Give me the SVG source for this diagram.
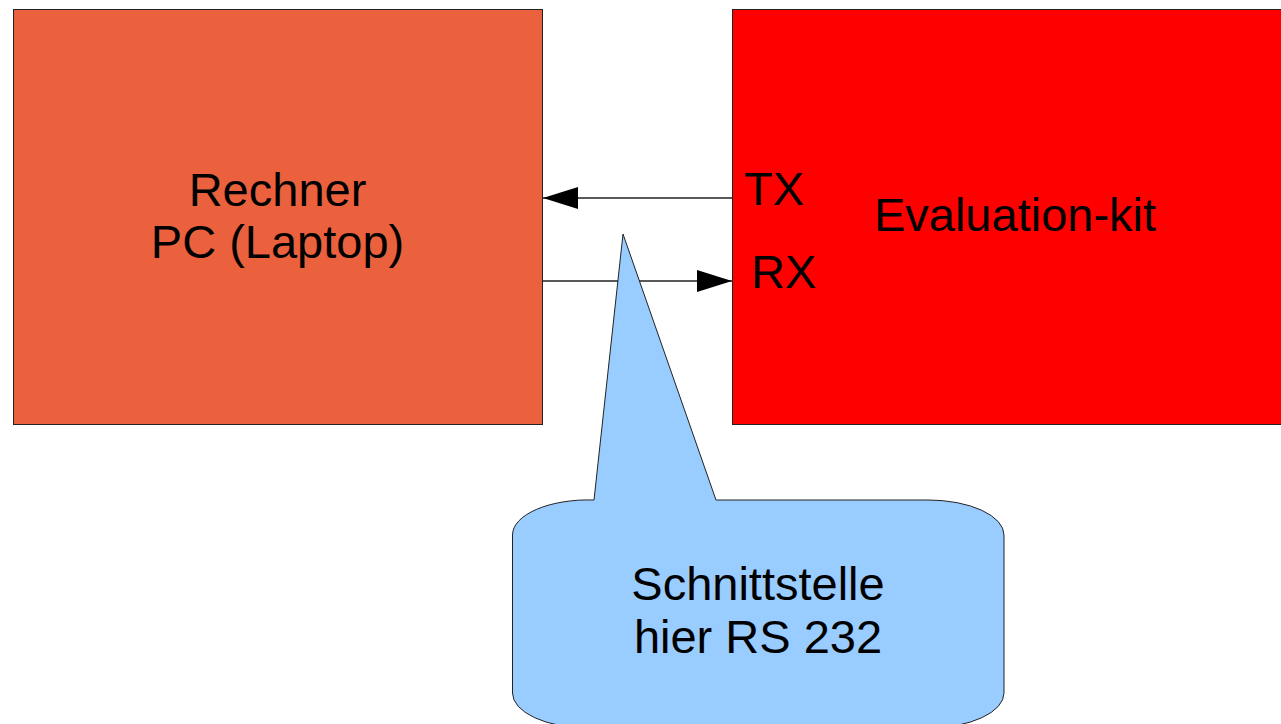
<svg xmlns="http://www.w3.org/2000/svg" width="1281" height="724" viewBox="0 0 1281 724">
<style>
.box{stroke:#222;stroke-width:1}
.t{font-family:"Liberation Sans",Arial,sans-serif;font-size:47px;fill:#000}
.c{stroke:#222;stroke-width:1.3;fill:none}
</style>
<defs>
<marker id="ah" markerUnits="userSpaceOnUse" markerWidth="36" markerHeight="24" refX="35" refY="12" orient="auto">
<path d="M0,1 L35,12 L0,23 Z" fill="#000"/>
</marker>
</defs>
<rect width="1281" height="724" fill="#fff"/>
<g id="rechner">
<rect class="box" x="13.5" y="9.5" width="529" height="415" fill="#EB613D"/>
<text class="t" x="277.5" y="206" text-anchor="middle">Rechner</text>
<text class="t" x="277.5" y="258" text-anchor="middle">PC (Laptop)</text>
</g>
<g id="evalkit">
<rect class="box" x="732.5" y="9.5" width="570" height="415" fill="#FF0000"/>
<text class="t" x="1015" y="231" text-anchor="middle">Evaluation-kit</text>
<text class="t" x="744" y="205">TX</text>
<text class="t" x="751" y="288">RX</text>
</g>
<g id="connectors">
<line class="c" x1="732" y1="198" x2="543" y2="198" marker-end="url(#ah)"/>
<line class="c" x1="542" y1="281" x2="732" y2="281" marker-end="url(#ah)"/>
</g>
<g id="callout">
<path d="M594,500 L623,234 L716,500 H928 A76 35 0 0 1 1004,535 V693 A76 35 0 0 1 928,728 H588 A76 35 0 0 1 512.5,693 V535 A76 35 0 0 1 594,500 Z" fill="#99CCFF" stroke="#222" stroke-width="1"/>
<text class="t" x="758" y="600" text-anchor="middle">Schnittstelle</text>
<text class="t" x="758" y="653" text-anchor="middle">hier RS 232</text>
</g>
</svg>
